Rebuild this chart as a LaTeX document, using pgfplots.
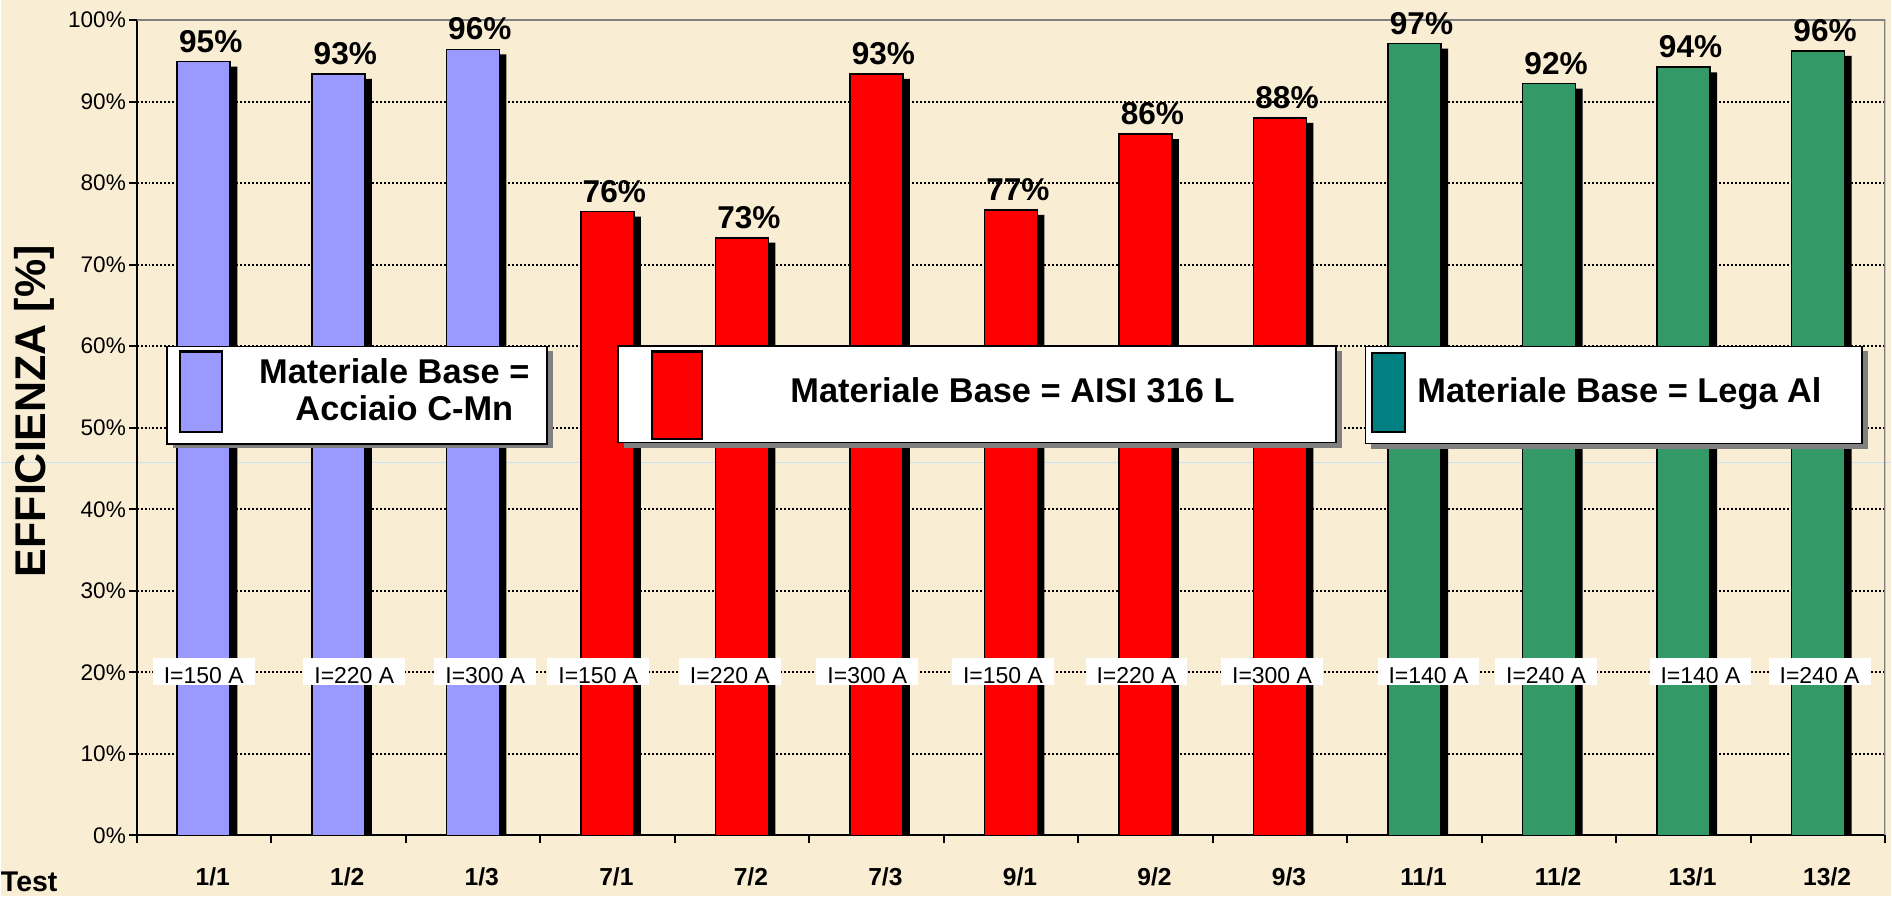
\documentclass[border=0pt]{standalone}
\usepackage{fontspec}
\setmainfont{Liberation Sans}
\usepackage{pgfplots}
\usepackage{pgfplotstable}
\pgfplotsset{compat=1.18}
\usetikzlibrary{backgrounds}

\definecolor{bg}{RGB}{249,237,212}
\definecolor{cblue}{RGB}{153,153,255}
\definecolor{cred}{RGB}{255,0,0}
\definecolor{cgreen}{RGB}{51,153,102}
\definecolor{cteal}{RGB}{0,128,128}
\definecolor{seam}{RGB}{200,225,240}

\pgfplotstableread{
x y lab
0 94.9 95
1 93.4 93
2 96.4 96
}\tA
\pgfplotstableread{
x y lab
3 76.5 76
4 73.3 73
5 93.4 93
6 76.7 77
7 86.0 86
8 88.0 88
}\tB
\pgfplotstableread{
x y lab
9 97.1 97
10 92.2 92
11 94.2 94
12 96.2 96
}\tC
\pgfplotstableread{
x y c
0 20 150
1.119 20 220
2.093 20 300
2.933 20 150
3.911 20 220
4.933 20 300
5.941 20 150
6.933 20 220
7.941 20 300
9.104 20 140
9.978 20 240
11.126 20 140
12.011 20 240
}\tcur

\pgfplotsset{
  mybar/.style={ybar, bar width=26.5pt, bar shift=0pt},
  shadow/.style={mybar, fill=black, draw=none, bar shift=3.5pt, yshift=-2.5pt},
  valbar/.style={mybar, draw=black, line width=0.8pt,
    nodes near coords={\pgfplotspointmeta\%}, point meta=explicit symbolic,
    nodes near coords style={font=\bfseries\fontsize{15.8}{18}\selectfont, xshift=3.5pt, yshift=0.8pt}},
}

\begin{document}
\begin{tikzpicture}
\begin{axis}[
  name=ax,
  at={(0,0)}, anchor=south west,
  scale only axis, width=875pt, height=408pt,
  xmin=-0.5, xmax=12.5, ymin=0, ymax=100,
  axis x line*=bottom, axis y line*=left,
  axis line style={black, line width=1pt, -},
  tick align=outside,
  major tick length=3.6pt,
  tick style={black, line width=1pt},
  xtick={-0.5,0.5,...,12.5},
  xticklabels={},
  extra x ticks={0,1,...,12},
  extra x tick labels={1/1,1/2,1/3,7/1,7/2,7/3,9/1,9/2,9/3,11/1,11/2,13/1,13/2},
  extra x tick style={major tick length=0pt, tick label style={font=\bfseries\fontsize{12.3}{14}\selectfont, yshift=-12.5pt, xshift=4.5pt}},
  ytick={0,10,...,100},
  yticklabels={0\%,10\%,20\%,30\%,40\%,50\%,60\%,70\%,80\%,90\%,100\%},
  yticklabel style={font=\fontsize{11.3}{13}\selectfont, xshift=1.8pt},
  ymajorgrids,
  grid style={black, line width=1pt, dash pattern=on 1pt off 1pt},
]
\draw[gray, line width=1.3pt] (rel axis cs:0,1) -- (rel axis cs:1,1) -- (rel axis cs:1,0);
\addplot[shadow] table[x=x,y=y]{\tA};
\addplot[shadow] table[x=x,y=y]{\tB};
\addplot[shadow] table[x=x,y=y]{\tC};
\addplot[valbar, fill=cblue] table[x=x,y=y,meta=lab]{\tA};
\addplot[valbar, fill=cred] table[x=x,y=y,meta=lab]{\tB};
\addplot[valbar, fill=cgreen] table[x=x,y=y,meta=lab]{\tC};
\addplot[draw=none, mark=none, nodes near coords={I=\pgfplotspointmeta\ A}, point meta=explicit symbolic,
  nodes near coords align=center,
  nodes near coords style={anchor=center, fill=white, font=\fontsize{11.5}{13}\selectfont,
    inner xsep=5.5pt, inner ysep=0.5pt, text height=12.5pt, text depth=0pt, yshift=0.5pt}]
  table[x=x,y=y,meta=c]{\tcur};
\end{axis}

\begin{scope}[on background layer]
\begin{scope}[shift={(ax.south west)}, x=0.5pt, y=-0.5pt, shift={(-136,-836)}]
\fill[bg] (0,0) rectangle (1892,897);
\draw[seam, line width=0.6pt] (0,463) -- (1892,463);
\end{scope}
\end{scope}

\begin{scope}[shift={(ax.south west)}, x=0.5pt, y=-0.5pt, shift={(-136,-836)}]
% y label and Test
\node[rotate=90, font=\bfseries\fontsize{21.5}{24}\selectfont] at (34,411.5) {EFFICIENZA [\%]};
\node[anchor=base west, inner sep=0pt, font=\bfseries\fontsize{14.25}{16}\selectfont] at (0,891.7) {Test};
% box 1
\fill[gray] (172.7,351) rectangle (552.7,448.5);
\draw[fill=white, line width=0.8pt] (166.7,346.7) rectangle (547,444.5);
\draw[fill=cblue, line width=1.1pt] (179.3,351.7) rectangle (221.7,432.7);
\node[anchor=base, inner sep=0pt, font=\bfseries\fontsize{17.2}{19}\selectfont] at (394,384) {Materiale Base =};
\node[anchor=base, inner sep=0pt, font=\bfseries\fontsize{17.2}{19}\selectfont] at (404,420.3) {Acciaio C-Mn};
% box 2
\fill[gray] (624,351) rectangle (1342,448);
\draw[fill=white, line width=0.8pt] (618,346) rectangle (1336,443);
\draw[fill=cred, line width=1.1pt] (651.7,351.7) rectangle (702,439);
\node[anchor=base, inner sep=0pt, font=\bfseries\fontsize{17.2}{19}\selectfont] at (1012.6,402.3) {Materiale Base = AISI 316 L};
% box 3
\fill[gray] (1371.6,351.7) rectangle (1868.6,449);
\draw[fill=white, line width=0.8pt] (1365.6,346.7) rectangle (1862.6,444);
\draw[fill=cteal, line width=1.1pt] (1372.5,353.3) rectangle (1405.3,432.7);
\node[anchor=base, inner sep=0pt, font=\bfseries\fontsize{17.2}{19}\selectfont] at (1620,402.3) {Materiale Base = Lega Al};
\end{scope}
\end{tikzpicture}
\end{document}
